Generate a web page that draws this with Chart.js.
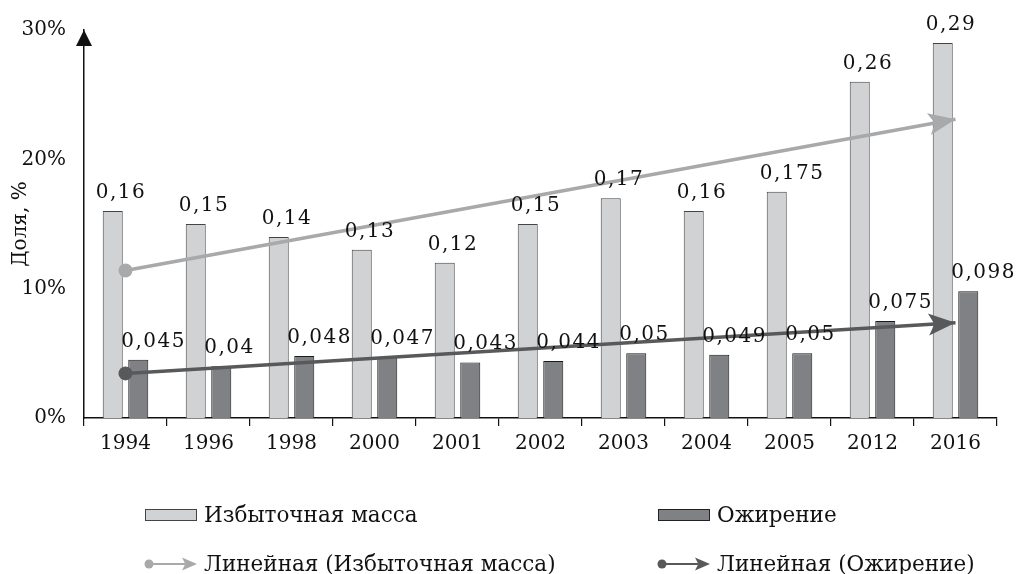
<!DOCTYPE html>
<html>
<head>
<meta charset="utf-8">
<script src="https://cdn.jsdelivr.net/npm/chart.js@4"></script>
<style>
  html, body { margin: 0; padding: 0; background: #fff; }
  #wrap { width: 1017px; height: 574px; position: relative; }
</style>
</head>
<body>
<div id="wrap"><canvas id="chart"></canvas></div>
<script>
const years = ['1994', '1996', '1998', '2000', '2001', '2002', '2003', '2004', '2005', '2012', '2016'];
const overweight = [0.16, 0.15, 0.14, 0.13, 0.12, 0.15, 0.17, 0.16, 0.175, 0.26, 0.29];
const obesity = [0.045, 0.04, 0.048, 0.047, 0.043, 0.044, 0.05, 0.049, 0.05, 0.075, 0.098];
// trend lines: value at first and last year
const trendOverweight = [0.114, 0.231];
const trendObesity = [0.0345, 0.0736];
const yTicks = [0, 0.1, 0.2, 0.3];

const FONT = '"DejaVu Serif", serif';
const TXT = '#111';
const lightFill = '#d1d2d4', darkFill = '#808185';
const lightTrend = '#a8a9ab', darkTrend = '#58595b';

const trendData = t => years.map((y, i) => i === 0 ? t[0] : (i === years.length - 1 ? t[1] : null));
const comma = v => String(v).replace('.', ',');

function arrowHead(ctx, x, y, ang, len, half, color) {
  ctx.save();
  ctx.translate(x, y);
  ctx.rotate(ang);
  ctx.fillStyle = color;
  ctx.beginPath();
  ctx.moveTo(0, 0);
  ctx.lineTo(-len, -half);
  ctx.lineTo(-len * 0.78, 0);
  ctx.lineTo(-len, half);
  ctx.closePath();
  ctx.fill();
  ctx.restore();
}

const extras = {
  id: 'extras',
  afterDatasetsDraw(chart) {
    const ctx = chart.ctx;
    // arrows at the end of the trend lines
    [2, 3].forEach(di => {
      const pts = chart.getDatasetMeta(di).data;
      const a = pts[0], b = pts[pts.length - 1];
      const ang = Math.atan2(b.y - a.y, b.x - a.x);
      arrowHead(ctx, b.x, b.y, ang, 27, 11, chart.data.datasets[di].borderColor);
    });
    // value labels above bars
    ctx.save();
    ctx.font = '20px ' + FONT;
    ctx.fillStyle = TXT;
    ctx.textAlign = 'left';
    ctx.textBaseline = 'alphabetic';
    ctx.letterSpacing = '1.5px';
    [0, 1].forEach(di => {
      const vals = chart.data.datasets[di].data;
      chart.getDatasetMeta(di).data.forEach((bar, i) => {
        ctx.fillText(comma(vals[i]), bar.x - bar.width / 2 - 7, bar.y - 13);
      });
    });
    ctx.restore();
  },
  afterDraw(chart) {
    const ctx = chart.ctx;
    const y = chart.scales.y;
    // arrow on top of y axis
    ctx.save();
    ctx.fillStyle = '#111';
    ctx.beginPath();
    ctx.moveTo(y.right, chart.chartArea.top);
    ctx.lineTo(y.right - 8, chart.chartArea.top + 16);
    ctx.lineTo(y.right + 8, chart.chartArea.top + 16);
    ctx.closePath();
    ctx.fill();

    // legend
    ctx.font = '21.5px ' + FONT;
    ctx.fillStyle = TXT;
    ctx.textBaseline = 'middle';
    ctx.textAlign = 'left';
    const items = [
      { x: 145, y: 515, kind: 'box', fill: lightFill, stroke: '#444', text: 'Избыточная масса' },
      { x: 658, y: 515, kind: 'box', fill: darkFill, stroke: '#222', text: 'Ожирение' },
      { x: 145, y: 564, kind: 'trend', color: lightTrend, text: 'Линейная (Избыточная масса)' },
      { x: 658, y: 564, kind: 'trend', color: darkTrend, text: 'Линейная (Ожирение)' }
    ];
    items.forEach(it => {
      if (it.kind === 'box') {
        ctx.fillStyle = it.fill;
        ctx.fillRect(it.x, it.y - 6, 52, 12);
        ctx.strokeStyle = it.stroke;
        ctx.lineWidth = 1;
        ctx.strokeRect(it.x + 0.5, it.y - 5.5, 51, 11);
      } else {
        ctx.strokeStyle = it.color;
        ctx.fillStyle = it.color;
        ctx.lineWidth = 2;
        ctx.beginPath();
        ctx.moveTo(it.x + 4, it.y);
        ctx.lineTo(it.x + 40, it.y);
        ctx.stroke();
        ctx.beginPath();
        ctx.arc(it.x + 4, it.y, 4.5, 0, Math.PI * 2);
        ctx.fill();
        arrowHead(ctx, it.x + 52, it.y, 0, 15, 6.5, it.color);
      }
      ctx.fillStyle = TXT;
      ctx.fillText(it.text, it.x + 59, it.y + 1);
    });
    ctx.restore();
  }
};

new Chart(document.getElementById('chart'), {
  type: 'bar',
  data: {
    labels: years,
    datasets: [
      { label: 'Избыточная масса', data: overweight, backgroundColor: lightFill, borderColor: '#444',
        borderWidth: 1, categoryPercentage: 0.615, barPercentage: 0.784, order: 2 },
      { label: 'Ожирение', data: obesity, backgroundColor: darkFill, borderColor: '#1a1a1a',
        borderWidth: 1, categoryPercentage: 0.615, barPercentage: 0.784, order: 2 },
      { type: 'line', label: 'Линейная (Избыточная масса)', data: trendData(trendOverweight),
        borderColor: lightTrend, backgroundColor: lightTrend, borderWidth: 3.5, spanGaps: true,
        pointRadius: years.map((y, i) => i === 0 ? 7 : 0), pointBorderWidth: 0, order: 1 },
      { type: 'line', label: 'Линейная (Ожирение)', data: trendData(trendObesity),
        borderColor: darkTrend, backgroundColor: darkTrend, borderWidth: 3.5, spanGaps: true,
        pointRadius: years.map((y, i) => i === 0 ? 7 : 0), pointBorderWidth: 0, order: 1 }
    ]
  },
  options: {
    responsive: true,
    maintainAspectRatio: false,
    animation: false,
    layout: { padding: { top: 27, right: 20, bottom: 0, left: 0 } },
    plugins: { legend: { display: false }, tooltip: { enabled: false } },
    scales: {
      x: {
        offset: true,
        grid: { offset: true, drawOnChartArea: false, color: '#111', tickLength: 8, lineWidth: 1.2 },
        border: { color: '#111', width: 1.5 },
        ticks: { color: TXT, font: { family: FONT, size: 20 }, padding: 6, maxRotation: 0 },
        afterFit: s => { s.height = 156; }
      },
      y: {
        min: 0,
        max: 0.3,
        grid: { display: false, drawTicks: false },
        border: { color: '#111', width: 1.5 },
        afterBuildTicks: s => { s.ticks = yTicks.map(v => ({ value: v })); },
        ticks: { color: TXT, font: { family: FONT, size: 20 }, padding: 18,
          callback: v => Math.round(v * 100) + '%' },
        title: { display: true, text: 'Доля, %', color: TXT, font: { family: FONT, size: 20 },
          padding: { top: 9, bottom: 0 } },
        afterFit: s => { s.width = 84; }
      }
    }
  },
  plugins: [extras]
});
</script>
</body>
</html>
